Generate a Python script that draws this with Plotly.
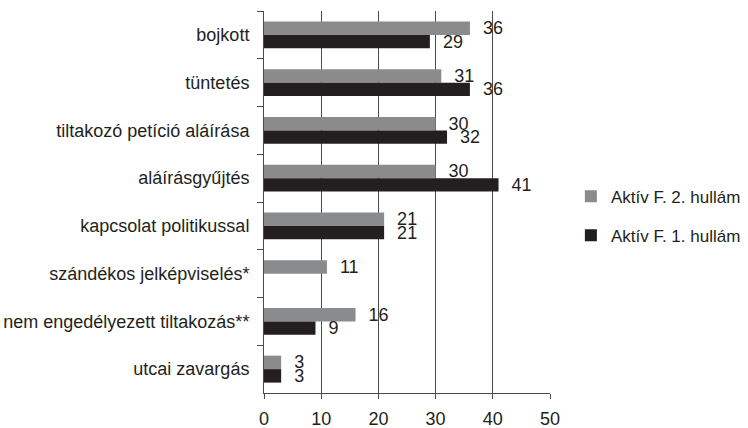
import plotly.graph_objects as go

categories = [
    "bojkott",
    "tüntetés",
    "tiltakozó petíció aláírása",
    "aláírásgyűjtés",
    "kapcsolat politikussal",
    "szándékos jelképviselés*",
    "nem engedélyezett tiltakozás**",
    "utcai zavargás",
]
wave2 = [36, 31, 30, 30, 21, 11, 16, 3]
wave1 = [29, 36, 32, 41, 21, None, 9, 3]
series_names = ["Aktív F. 2. hullám", "Aktív F. 1. hullám"]
x_ticks = [0, 10, 20, 30, 40, 50]

GRAY = "#8a8b8d"
BLACK = "#231f20"
FONT = "Liberation Sans, Arial, sans-serif"
FS = 18

fig = go.Figure()
for name, vals, col, grp in [(series_names[0], wave2, GRAY, "g2"), (series_names[1], wave1, BLACK, "g1")]:
    fig.add_trace(go.Bar(
        y=categories, x=vals, orientation="h", name=name,
        marker=dict(color=col, line=dict(width=0)),
        text=[("" if v is None else str(v)) for v in vals],
        texttemplate="  %{text}",
        textposition="outside", constraintext="none", cliponaxis=False,
        textfont=dict(family=FONT, size=FS, color=BLACK),
        legendgroup=grp,
    ))

fig.update_layout(
    width=748, height=428,
    margin=dict(l=264, r=198, t=11, b=35, autoexpand=False),
    paper_bgcolor="white", plot_bgcolor="white",
    barmode="group", bargap=0.435, bargroupgap=0,
    font=dict(family=FONT, size=FS, color=BLACK),
    showlegend=True,
    legend=dict(
        x=1.073, xanchor="left", y=0.463, yanchor="middle",
        traceorder="grouped", tracegroupgap=14,
        font=dict(family=FONT, size=17, color=BLACK),
        bgcolor="rgba(0,0,0,0)",
    ),
)
fig.update_xaxes(
    range=[0, 50], tickvals=x_ticks, ticktext=[str(t) for t in x_ticks],
    showgrid=True, gridcolor="#4a4a4a", gridwidth=1,
    showline=True, linecolor="#4a4a4a", linewidth=1,
    ticks="outside", ticklen=5, tickcolor="#4a4a4a",
    zeroline=False, tickfont=dict(size=FS), automargin=False,
    ticklabelstandoff=4,
)
fig.update_yaxes(
    autorange="reversed", type="category",
    showline=True, linecolor="#4a4a4a", linewidth=1,
    ticks="outside", ticklen=6, tickcolor="#4a4a4a", tickson="boundaries",
    showgrid=False, ticklabelstandoff=10, tickfont=dict(size=FS), automargin=False,
)

fig.write_html(
    "out.html",
    config={"displayModeBar": False},
    post_script="document.body.style.margin='0';document.body.style.overflow='hidden';",
)
